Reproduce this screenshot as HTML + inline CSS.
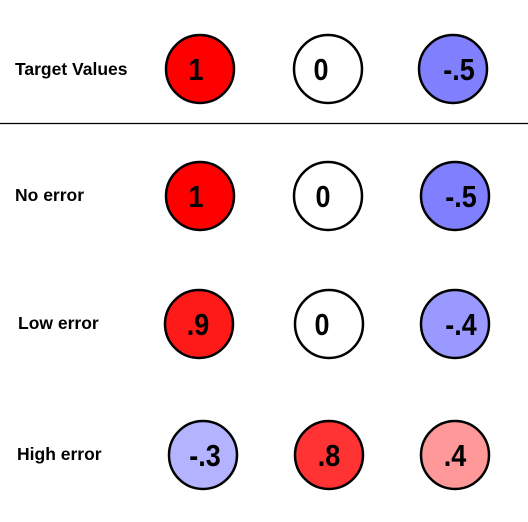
<!DOCTYPE html>
<html><head><style>
body{margin:0;width:528px;height:517px;background:#fff;overflow:hidden}
</style></head><body>
<svg width="528" height="517" xmlns="http://www.w3.org/2000/svg" font-family="Liberation Sans, Arial, sans-serif" font-weight="bold">
<g font-size="17.5" fill="#000">
<text x="15" y="75">Target Values</text>
<text x="15" y="201">No error</text>
<text x="18" y="329">Low error</text>
<text x="17" y="460">High error</text>
</g>
<line x1="0" y1="123.5" x2="528" y2="123.5" stroke="#000" stroke-width="1.3"/>
<g stroke="#000" stroke-width="2.5">
<circle cx="200" cy="69" r="34" fill="#ff0000"/>
<circle cx="328" cy="69" r="34" fill="#fff"/>
<circle cx="453" cy="69" r="34" fill="#8080ff"/>
<circle cx="200" cy="196" r="34" fill="#ff0000"/>
<circle cx="328" cy="196" r="34" fill="#fff"/>
<circle cx="455" cy="196" r="34" fill="#8080ff"/>
<circle cx="199" cy="324" r="34" fill="#ff1a1a"/>
<circle cx="329" cy="324" r="34" fill="#fff"/>
<circle cx="455" cy="324" r="34" fill="#9999ff"/>
<circle cx="203" cy="455" r="34" fill="#b3b3ff"/>
<circle cx="329" cy="455" r="34" fill="#ff3333"/>
<circle cx="455" cy="455" r="34" fill="#ff9999"/>
</g>
<g font-size="31" text-anchor="middle" fill="#000">
<text transform="translate(196,80) scale(0.87,1)">1</text>
<text transform="translate(321,80) scale(0.87,1)">0</text>
<text transform="translate(459,80) scale(0.87,1)">-.5</text>
<text transform="translate(196,207) scale(0.87,1)">1</text>
<text transform="translate(323,207) scale(0.87,1)">0</text>
<text transform="translate(461,207) scale(0.87,1)">-.5</text>
<text transform="translate(198,335) scale(0.87,1)">.9</text>
<text transform="translate(322,335) scale(0.87,1)">0</text>
<text transform="translate(461,335) scale(0.87,1)">-.4</text>
<text transform="translate(205,466) scale(0.87,1)">-.3</text>
<text transform="translate(329,466) scale(0.87,1)">.8</text>
<text transform="translate(455,466) scale(0.87,1)">.4</text>
</g>
</svg>
</body></html>
